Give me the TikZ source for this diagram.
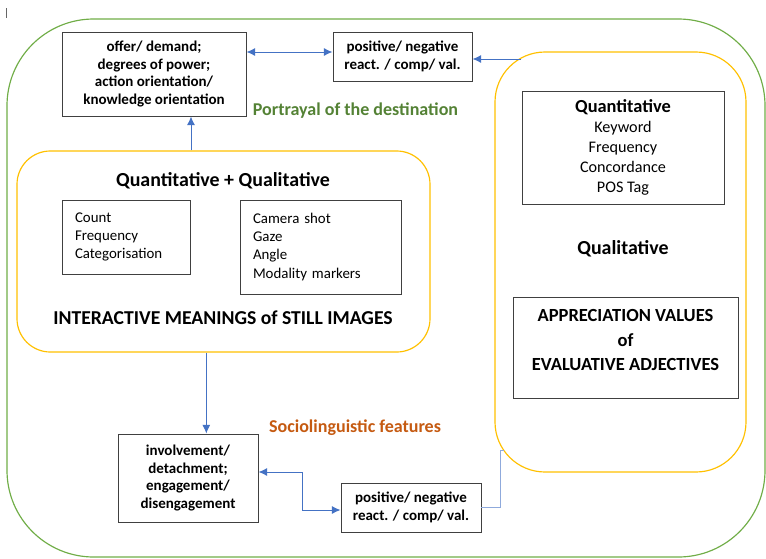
\documentclass[tikz,border=0pt]{standalone}
\usepackage{fontspec}
\setmainfont{Carlito}
\usetikzlibrary{arrows.meta,calc}
\definecolor{ablue}{HTML}{4472C4}
\definecolor{lblue}{HTML}{8FAADC}
\definecolor{agreen}{HTML}{70AD47}
\definecolor{dgreen}{HTML}{548235}
\definecolor{aorange}{HTML}{C55A11}
\definecolor{ayellow}{HTML}{FFC000}
\tikzset{
  txtbox/.style={draw=black!75, line width=0.8pt, align=center, font=\fontsize{12.8}{15}\selectfont\bfseries},
  listbox/.style={draw=black!75, line width=0.8pt, align=left, inner xsep=3.9mm, font=\fontsize{12.7}{15.4}\selectfont},
  arr/.style={ablue, line width=0.8pt, >={Latex[length=2.6mm,width=2.4mm]}},
}
\begin{document}
\begin{tikzpicture}[x=0.3mm, y=-0.3mm]
\useasboundingbox (0,0) rectangle (766,558);
\draw[black!60, line width=0.4pt] (6,8) -- (6,18);
% frames
\node[draw=agreen, line width=1pt, rounded corners=26mm, minimum width=227.4mm, minimum height=161.4mm] (outer) at (386,288) {};
\node[draw=ayellow, line width=1pt, rounded corners=10mm, minimum width=123.9mm, minimum height=60.3mm] (qq) at (223.5,251.5) {};
\node[draw=ayellow, line width=1pt, rounded corners=15mm, minimum width=75.3mm, minimum height=126mm] (qr) at (620.5,262) {};
% feature boxes
\node[txtbox, minimum width=55.2mm, minimum height=25.2mm] (offer) at (154,74) {offer/ demand;\\ degrees of power;\\ action orientation/\\ knowledge orientation};
\node[txtbox, minimum width=41.7mm, minimum height=14.7mm] (posTop) at (402.5,56.5) {positive/ negative\\ react. / comp/ val.};
\node[txtbox, minimum width=42mm, minimum height=26.4mm] (inv) at (188,478) {involvement/\\ detachment;\\ engagement/\\ disengagement};
\node[txtbox, minimum width=42mm, minimum height=14.7mm] (posBot) at (411,507.5) {positive/ negative\\ react. / comp/ val.};
\node[font=\fontsize{15.4}{17}\selectfont\bfseries, text=dgreen] (portrayal) at (355.5,111) {Portrayal of the destination};
\node[font=\fontsize{15.4}{17}\selectfont\bfseries, text=aorange] (socio) at (355,428) {Sociolinguistic features};
% images
\node[font=\fontsize{17}{19}\selectfont\bfseries] (qqTitle) at (223,181) {Quantitative + Qualitative};
\node[listbox, text width=30.6mm, minimum height=22.2mm] (count) at (126,237) {Count\\ Frequency\\ Categorisation};
\node[listbox, text width=40.5mm, minimum height=28.2mm] (camera) at (320.5,247) {Camera shot\\ Gaze\\ Angle\\ Modality markers};
\node[font=\fontsize{16.8}{19}\selectfont\bfseries] (interactive) at (223,318) {INTERACTIVE MEANINGS of STILL IMAGES};
% texts
\node[draw=black!75, line width=0.8pt, align=center, minimum width=60.6mm, minimum height=33.9mm, font=\fontsize{13.8}{17}\selectfont] (quant) at (623,147.5) {{\fontsize{15.7}{17}\selectfont\bfseries Quantitative}\\ Keyword\\ Frequency\\ Concordance\\ POS Tag};
\node[font=\fontsize{17}{19}\selectfont\bfseries] (qual) at (623,249) {Qualitative};
\node[draw=black!75, line width=0.8pt, minimum width=67.5mm, minimum height=30.3mm] (apprec) at (625.5,348) {};
\node[align=center, font=\fontsize{15.8}{21.3}\selectfont\bfseries] (apprecTxt) at (625.5,340) {APPRECIATION VALUES\\ of\\ EVALUATIVE ADJECTIVES};
% connectors
\coordinate (offerIn) at ($(offer.south west)!0.7!(offer.south east)$);
\coordinate (invIn) at ($(inv.north west)!0.63!(inv.north east)$);
\coordinate (qrIn) at (521,59);
\coordinate (qrFoot) at (500,450);
\draw[arr, <->] ([yshift=1.35mm]posTop.west -| offer.east) -- ([yshift=1.35mm]posTop.west);
\draw[arr, ->] (qrIn) -- (qrIn -| posTop.east);
\draw[arr, ->] (offerIn |- qq.north) -- (offerIn);
\draw[arr, ->] (invIn |- qq.south) -- (invIn);
\draw[arr, <->] ([yshift=1.8mm]inv.east) -- ++(44,0) |- ([yshift=-0.75mm]posBot.west);
\draw[lblue, line width=0.8pt] (posBot.east) -| (qrFoot) -- ++(4,0);
\end{tikzpicture}
\end{document}
